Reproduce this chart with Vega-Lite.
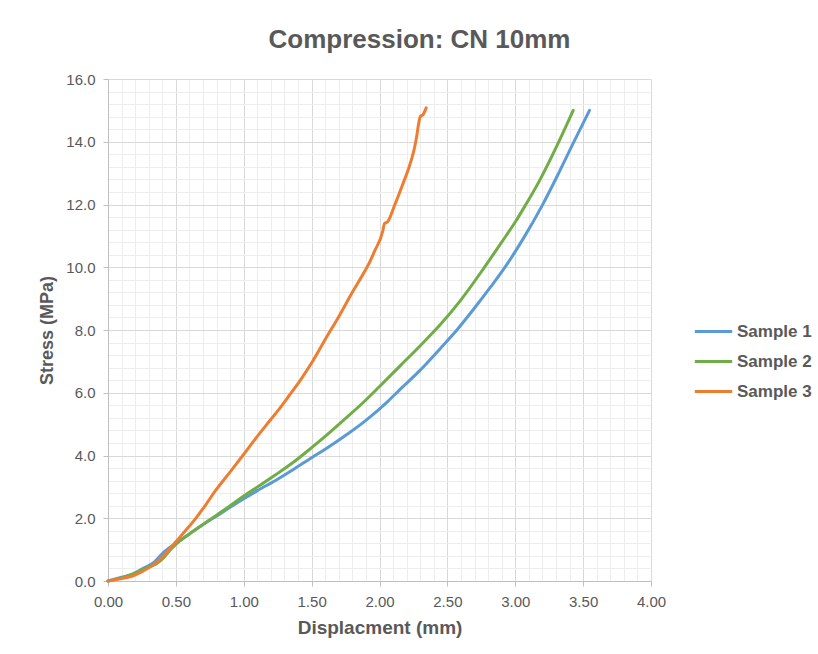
{
  "$schema": "https://vega.github.io/schema/vega-lite/v6.json",
  "width": 543,
  "height": 502,
  "autosize": {"type": "none"},
  "padding": {"left": 108, "top": 79, "right": 167, "bottom": 73},
  "background": "white",
  "config": {
    "font": "Liberation Sans",
    "view": {"stroke": null}
  },
  "title": {
    "text": "Compression: CN 10mm",
    "font": "Liberation Sans",
    "fontSize": 26,
    "fontWeight": "bold",
    "color": "#595959",
    "anchor": "middle",
    "dx": 40,
    "offset": 19
  },
  "data": {
    "values": [
      {"s": "Sample 1", "d": 0, "p": 0},
      {"s": "Sample 1", "d": 0.1, "p": 0.12},
      {"s": "Sample 1", "d": 0.18, "p": 0.22},
      {"s": "Sample 1", "d": 0.25, "p": 0.38},
      {"s": "Sample 1", "d": 0.34, "p": 0.6},
      {"s": "Sample 1", "d": 0.38, "p": 0.78},
      {"s": "Sample 1", "d": 0.42, "p": 0.95},
      {"s": "Sample 1", "d": 0.5, "p": 1.2},
      {"s": "Sample 1", "d": 0.6, "p": 1.5},
      {"s": "Sample 1", "d": 0.7, "p": 1.8},
      {"s": "Sample 1", "d": 0.8, "p": 2.07},
      {"s": "Sample 1", "d": 0.9, "p": 2.35},
      {"s": "Sample 1", "d": 1.0, "p": 2.62},
      {"s": "Sample 1", "d": 1.1, "p": 2.88},
      {"s": "Sample 1", "d": 1.24, "p": 3.22},
      {"s": "Sample 1", "d": 1.36, "p": 3.54},
      {"s": "Sample 1", "d": 1.5, "p": 3.93},
      {"s": "Sample 1", "d": 1.6, "p": 4.2},
      {"s": "Sample 1", "d": 1.77, "p": 4.7},
      {"s": "Sample 1", "d": 1.9, "p": 5.12},
      {"s": "Sample 1", "d": 2.06, "p": 5.72},
      {"s": "Sample 1", "d": 2.15, "p": 6.1},
      {"s": "Sample 1", "d": 2.3, "p": 6.72},
      {"s": "Sample 1", "d": 2.45, "p": 7.42},
      {"s": "Sample 1", "d": 2.57, "p": 8.0},
      {"s": "Sample 1", "d": 2.7, "p": 8.7},
      {"s": "Sample 1", "d": 2.82, "p": 9.38},
      {"s": "Sample 1", "d": 2.94, "p": 10.1},
      {"s": "Sample 1", "d": 3.06, "p": 10.92},
      {"s": "Sample 1", "d": 3.2, "p": 11.98},
      {"s": "Sample 1", "d": 3.32, "p": 13.0},
      {"s": "Sample 1", "d": 3.43, "p": 13.98},
      {"s": "Sample 1", "d": 3.547, "p": 15.0},
      {"s": "Sample 2", "d": 0, "p": 0},
      {"s": "Sample 2", "d": 0.1, "p": 0.1},
      {"s": "Sample 2", "d": 0.2, "p": 0.25},
      {"s": "Sample 2", "d": 0.3, "p": 0.45},
      {"s": "Sample 2", "d": 0.36, "p": 0.56},
      {"s": "Sample 2", "d": 0.41, "p": 0.74},
      {"s": "Sample 2", "d": 0.45, "p": 0.95},
      {"s": "Sample 2", "d": 0.5, "p": 1.17},
      {"s": "Sample 2", "d": 0.6, "p": 1.5},
      {"s": "Sample 2", "d": 0.7, "p": 1.8},
      {"s": "Sample 2", "d": 0.8, "p": 2.1},
      {"s": "Sample 2", "d": 0.9, "p": 2.4},
      {"s": "Sample 2", "d": 1.0, "p": 2.71},
      {"s": "Sample 2", "d": 1.12, "p": 3.05},
      {"s": "Sample 2", "d": 1.24, "p": 3.4},
      {"s": "Sample 2", "d": 1.37, "p": 3.8},
      {"s": "Sample 2", "d": 1.5, "p": 4.25},
      {"s": "Sample 2", "d": 1.63, "p": 4.72},
      {"s": "Sample 2", "d": 1.75, "p": 5.18},
      {"s": "Sample 2", "d": 1.88, "p": 5.69},
      {"s": "Sample 2", "d": 2.0, "p": 6.2},
      {"s": "Sample 2", "d": 2.15, "p": 6.85},
      {"s": "Sample 2", "d": 2.3, "p": 7.5},
      {"s": "Sample 2", "d": 2.45, "p": 8.18},
      {"s": "Sample 2", "d": 2.6, "p": 8.96},
      {"s": "Sample 2", "d": 2.77, "p": 9.98},
      {"s": "Sample 2", "d": 2.9, "p": 10.8},
      {"s": "Sample 2", "d": 3.0, "p": 11.44},
      {"s": "Sample 2", "d": 3.07, "p": 11.94},
      {"s": "Sample 2", "d": 3.18, "p": 12.77},
      {"s": "Sample 2", "d": 3.31, "p": 13.9},
      {"s": "Sample 2", "d": 3.427, "p": 15.0},
      {"s": "Sample 3", "d": 0, "p": 0},
      {"s": "Sample 3", "d": 0.1, "p": 0.08},
      {"s": "Sample 3", "d": 0.18, "p": 0.16},
      {"s": "Sample 3", "d": 0.25, "p": 0.3},
      {"s": "Sample 3", "d": 0.34, "p": 0.53},
      {"s": "Sample 3", "d": 0.42, "p": 0.85},
      {"s": "Sample 3", "d": 0.5, "p": 1.25},
      {"s": "Sample 3", "d": 0.57, "p": 1.6},
      {"s": "Sample 3", "d": 0.645, "p": 1.99},
      {"s": "Sample 3", "d": 0.72, "p": 2.43},
      {"s": "Sample 3", "d": 0.79, "p": 2.87},
      {"s": "Sample 3", "d": 0.9, "p": 3.48},
      {"s": "Sample 3", "d": 1.0, "p": 4.04},
      {"s": "Sample 3", "d": 1.08, "p": 4.5},
      {"s": "Sample 3", "d": 1.164, "p": 4.96},
      {"s": "Sample 3", "d": 1.25, "p": 5.42},
      {"s": "Sample 3", "d": 1.336, "p": 5.92},
      {"s": "Sample 3", "d": 1.42, "p": 6.42},
      {"s": "Sample 3", "d": 1.497, "p": 6.93},
      {"s": "Sample 3", "d": 1.6, "p": 7.7},
      {"s": "Sample 3", "d": 1.703, "p": 8.45},
      {"s": "Sample 3", "d": 1.8, "p": 9.2},
      {"s": "Sample 3", "d": 1.888, "p": 9.85},
      {"s": "Sample 3", "d": 1.925, "p": 10.14},
      {"s": "Sample 3", "d": 1.962, "p": 10.5},
      {"s": "Sample 3", "d": 2.024, "p": 11.15},
      {"s": "Sample 3", "d": 2.036, "p": 11.39},
      {"s": "Sample 3", "d": 2.06, "p": 11.45},
      {"s": "Sample 3", "d": 2.11, "p": 11.96},
      {"s": "Sample 3", "d": 2.17, "p": 12.63},
      {"s": "Sample 3", "d": 2.22, "p": 13.22},
      {"s": "Sample 3", "d": 2.24, "p": 13.5},
      {"s": "Sample 3", "d": 2.26, "p": 13.85},
      {"s": "Sample 3", "d": 2.275, "p": 14.2},
      {"s": "Sample 3", "d": 2.29, "p": 14.62},
      {"s": "Sample 3", "d": 2.3, "p": 14.8},
      {"s": "Sample 3", "d": 2.32, "p": 14.86},
      {"s": "Sample 3", "d": 2.344, "p": 15.08}
    ]
  },
  "layer": [
    {
      "mark": {"type": "line", "opacity": 0},
      "encoding": {
        "x": {
          "field": "d", "type": "quantitative",
          "scale": {"domain": [0, 4], "nice": false},
          "axis": {
            "orient": "bottom", "title": null, "labels": false, "ticks": false, "domain": false,
            "grid": true, "gridColor": "#EDEDED", "gridWidth": 1,
            "values": [0.1,0.2,0.3,0.4,0.6,0.7,0.8,0.9,1.1,1.2,1.3,1.4,1.6,1.7,1.8,1.9,2.1,2.2,2.3,2.4,2.6,2.7,2.8,2.9,3.1,3.2,3.3,3.4,3.6,3.7,3.8,3.9]
          }
        },
        "y": {
          "field": "p", "type": "quantitative",
          "scale": {"domain": [0, 16], "nice": false},
          "axis": {
            "orient": "left", "title": null, "labels": false, "ticks": false, "domain": false,
            "grid": true, "gridColor": "#EDEDED", "gridWidth": 1,
            "values": [0.4,0.8,1.2,1.6,2.4,2.8,3.2,3.6,4.4,4.8,5.2,5.6,6.4,6.8,7.2,7.6,8.4,8.8,9.2,9.6,10.4,10.8,11.2,11.6,12.4,12.8,13.2,13.6,14.4,14.8,15.2,15.6]
          }
        }
      }
    },
    {
      "mark": {"type": "line", "strokeWidth": 3, "interpolate": "monotone", "strokeCap": "round"},
      "encoding": {
        "x": {
          "field": "d", "type": "quantitative",
          "scale": {"domain": [0, 4], "nice": false},
          "axis": {
            "orient": "bottom",
            "title": "Displacment (mm)",
            "values": [0, 0.5, 1, 1.5, 2, 2.5, 3, 3.5, 4],
            "format": ".2f",
            "labelFlush": false,
            "grid": true, "gridColor": "#D9D9D9", "gridWidth": 1,
            "domainColor": "#BFBFBF", "tickColor": "#BFBFBF", "tickSize": 5,
            "labelFont": "Liberation Sans", "labelFontSize": 15, "labelColor": "#595959", "labelPadding": 8,
            "titleFont": "Liberation Sans", "titleFontSize": 19, "titleFontWeight": "bold", "titleColor": "#595959", "titlePadding": 9
          }
        },
        "y": {
          "field": "p", "type": "quantitative",
          "scale": {"domain": [0, 16], "nice": false},
          "axis": {
            "orient": "left",
            "title": "Stress (MPa)",
            "values": [0, 2, 4, 6, 8, 10, 12, 14, 16],
            "format": ".1f",
            "labelFlush": false,
            "grid": true, "gridColor": "#D9D9D9", "gridWidth": 1,
            "domainColor": "#BFBFBF", "tickColor": "#BFBFBF", "tickSize": 5,
            "labelFont": "Liberation Sans", "labelFontSize": 15, "labelColor": "#595959", "labelPadding": 8,
            "titleFont": "Liberation Sans", "titleFontSize": 18, "titleFontWeight": "bold", "titleColor": "#595959", "titlePadding": 9
          }
        },
        "color": {
          "field": "s", "type": "nominal",
          "scale": {"domain": ["Sample 1", "Sample 2", "Sample 3"], "range": ["#5B9BD5", "#70AD47", "#ED7D31"]},
          "legend": {
            "title": null,
            "orient": "none",
            "legendX": 585,
            "legendY": 232,
            "symbolType": "stroke",
            "symbolSize": 1400,
            "symbolStrokeWidth": 3,
            "labelFont": "Liberation Sans",
            "labelFontSize": 17,
            "labelFontWeight": "bold",
            "labelColor": "#595959",
            "labelOffset": 3,
            "rowPadding": 1
          }
        }
      }
    }
  ],
  "resolve": {"axis": {"x": "independent", "y": "independent"}}
}
